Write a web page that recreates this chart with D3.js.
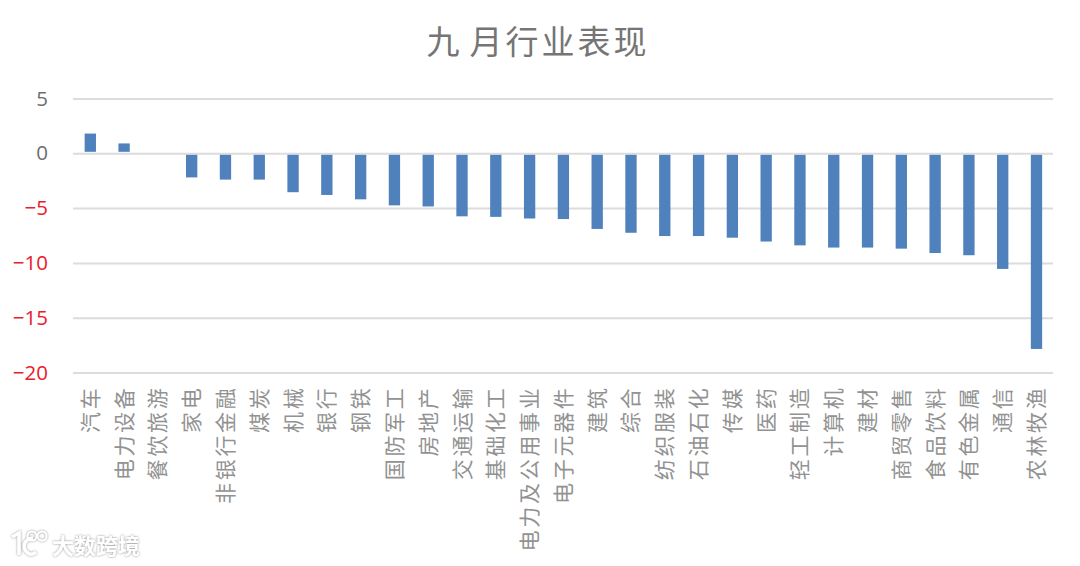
<!DOCTYPE html>
<html>
<head>
<meta charset="utf-8">
<script src="https://cdnjs.cloudflare.com/ajax/libs/d3/7.8.5/d3.min.js"></script>
<style>
    html, body { margin: 0; padding: 0; background: #fff; }
    svg { display: block; }
    text { font-family: "Noto Sans CJK SC", sans-serif; }
</style>
</head>
<body>
<div id="chart"></div>
<script>
const categories = ["汽车", "电力设备", "餐饮旅游", "家电", "非银行金融", "煤炭", "机械", "银行", "钢铁", "国防军工",
    "房地产", "交通运输", "基础化工", "电力及公用事业", "电子元器件", "建筑", "综合", "纺织服装", "石油石化", "传媒",
    "医药", "轻工制造", "计算机", "建材", "商贸零售", "食品饮料", "有色金属", "通信", "农林牧渔"];
const values = [1.8, 0.9, 0, -2.2, -2.4, -2.4, -3.55, -3.8, -4.2, -4.75,
    -4.85, -5.75, -5.8, -5.95, -6, -6.9, -7.25, -7.55, -7.55, -7.7,
    -8.05, -8.4, -8.6, -8.6, -8.7, -9.1, -9.3, -10.55, -17.85];
const yTicks = [5, 0, -5, -10, -15, -20];
const title = "九月行业表现";
const watermark = "大数跨境";

const width = 1080, height = 566;
const svg = d3.select("#chart").append("svg")
    .attr("width", width)
    .attr("height", height);

const x = d3.scaleBand().domain(categories).range([73.4, 1053.4]).paddingInner(0.665).paddingOuter(0.3325);
const y = d3.scaleLinear().domain([-20, 5]).range([372.5, 98.5]);

// soft shadow for the watermark
const shadow = svg.append("defs").append("filter").attr("id", "wmShadow");
shadow.append("feDropShadow")
    .attr("dx", 0).attr("dy", 0)
    .attr("stdDeviation", 1.1)
    .attr("flood-color", "#8c8c8c");

// gridlines + y labels
const yAxis = svg.append("g")
    .attr("transform", "translate(73,0)")
    .call(d3.axisLeft(y).tickValues(yTicks).tickSize(-980).tickPadding(25).tickFormat(d3.format("d")));
yAxis.select(".domain").remove();
yAxis.selectAll("line").attr("stroke", "#dcdcdc").attr("stroke-width", 2);
yAxis.selectAll("text")
    .style("font-family", "'Open Sans', sans-serif")
    .attr("font-size", 20.5)
    .attr("fill", d => d < 0 ? "#e8202a" : "#6e6e6e");

// bars
svg.selectAll(".bar")
    .data(values)
    .enter()
    .append("rect")
    .attr("class", "bar")
    .attr("x", (d, i) => x(categories[i]))
    .attr("y", d => d > 0 ? y(d) : y(0) + 1.5)
    .attr("width", x.bandwidth())
    .attr("height", d => d === 0 ? 0 : Math.abs(y(d) - y(0)) - 1.5)
    .attr("fill", "#4f81bd");

// category labels, read bottom to top
svg.selectAll(".cat")
    .data(categories)
    .enter()
    .append("text")
    .attr("class", "cat")
    .attr("transform", d => `translate(${x(d) + x.bandwidth() / 2 + 7.5},385.5) rotate(-90)`)
    .attr("text-anchor", "end")
    .attr("font-size", 21)
    .attr("letter-spacing", 2.7)
    .attr("fill", "#929292")
    .text(d => d);

svg.append("text")
    .attr("x", 538)
    .attr("y", 54)
    .attr("dx", "0 7")
    .attr("text-anchor", "middle")
    .attr("font-size", 33)
    .attr("letter-spacing", 3)
    .attr("fill", "#757575")
    .text(title);

// watermark, logo is just a rough sketch
const wm = svg.append("g").attr("filter", "url(#wmShadow)");
wm.append("path")
    .attr("d", "M12 537 L19 533 L19 555 M33 538 C24 539 21 548 28 553 C31 555 34 554 36 552")
    .attr("fill", "none")
    .attr("stroke", "#fff")
    .attr("stroke-width", 3.5);
wm.selectAll("circle")
    .data([32, 42])
    .enter()
    .append("circle")
    .attr("cx", d => d)
    .attr("cy", 536)
    .attr("r", 4.5)
    .attr("fill", "none")
    .attr("stroke", "#fff")
    .attr("stroke-width", 2);
wm.append("text")
    .attr("x", 52)
    .attr("y", 554)
    .attr("font-size", 22)
    .attr("font-weight", 700)
    .attr("fill", "#fff")
    .text(watermark);
</script>
</body>
</html>
